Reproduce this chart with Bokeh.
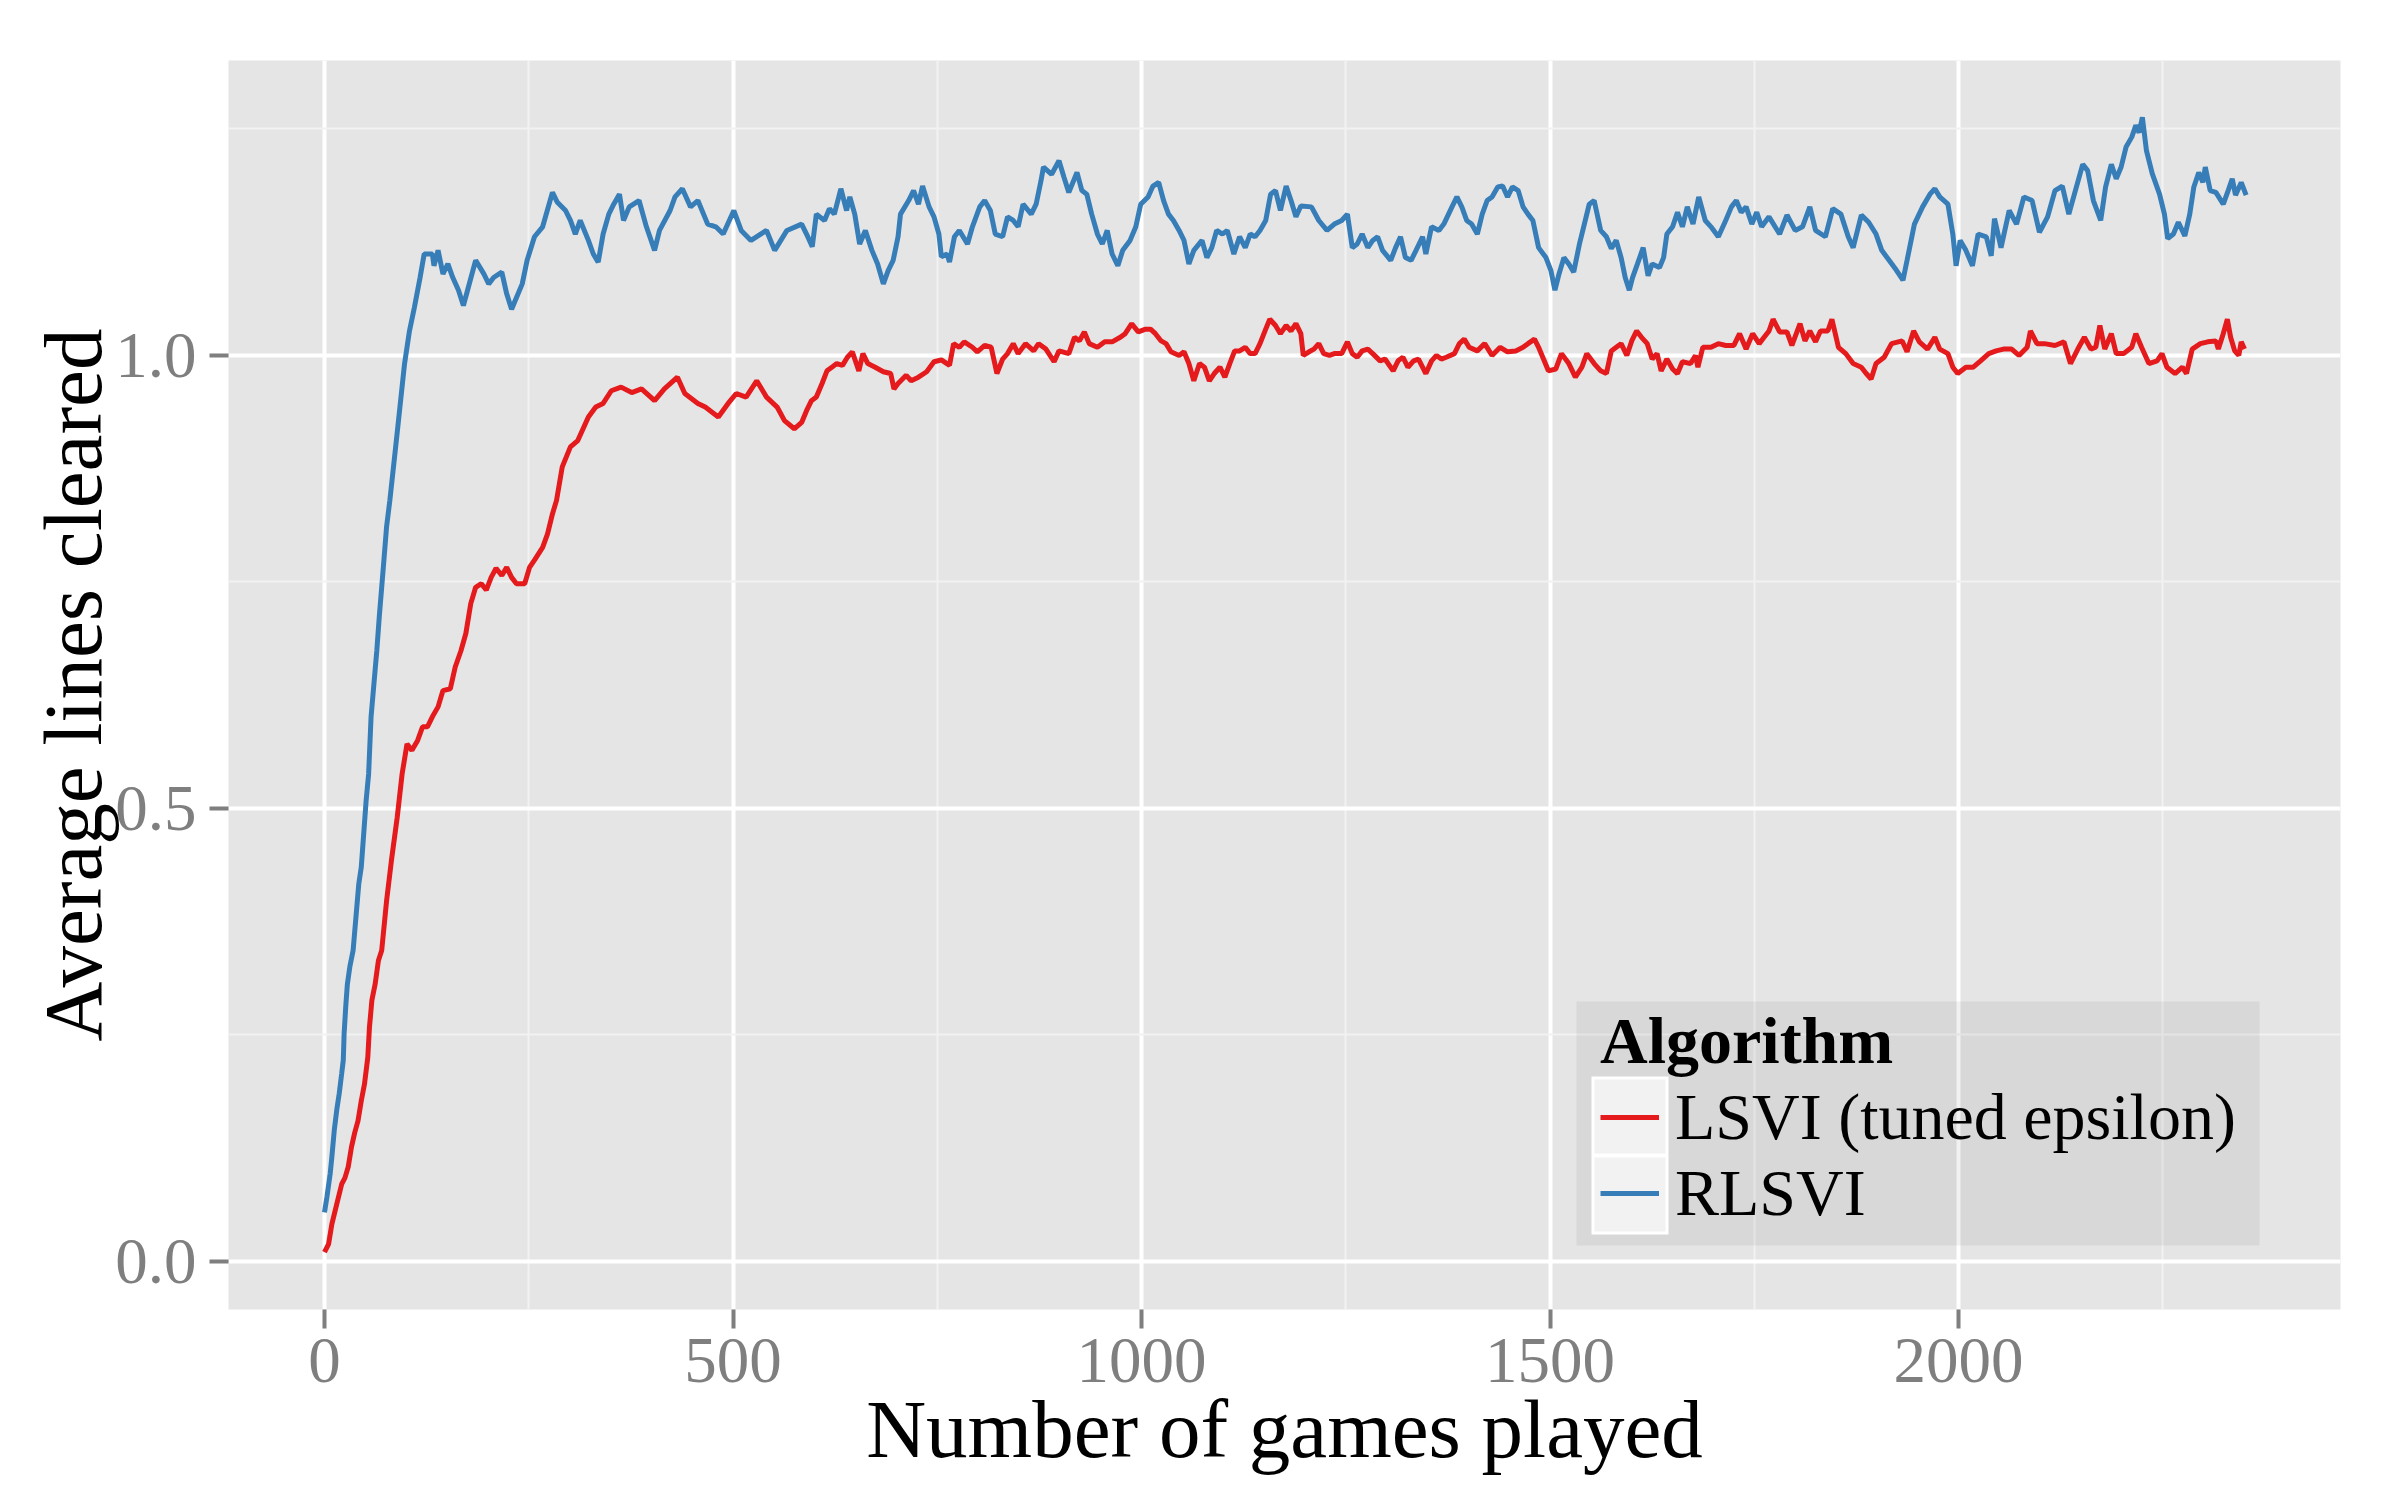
from bokeh.plotting import figure
from bokeh.models import (Range1d, FixedTicker, Legend, LegendItem, BoxAnnotation,
                          NumeralTickFormatter)
from bokeh.embed import file_html
from bokeh.resources import INLINE

# ---------------- data ----------------
series_names = ["LSVI (tuned epsilon)", "RLSVI"]
series_colors = ["#E41A1C", "#377EB8"]

lsvi_games = [
    0, 5, 9, 15, 21, 25, 29, 33, 37, 41,
    45, 49, 53, 55, 58, 62, 66, 70, 76, 82,
    89, 95, 101, 107, 114, 120, 126, 132, 139, 145,
    154, 160, 167, 173, 179, 185, 192, 198, 204, 210,
    217, 223, 229, 235, 245, 251, 257, 267, 273, 279,
    284, 291, 301, 310, 323, 332, 341, 351, 363, 376,
    388, 404, 416, 432, 441, 457, 466, 482, 494, 504,
    516, 529, 541, 554, 563, 575, 584, 590, 596, 602,
    609, 615, 621, 627, 634, 640, 646, 654, 659, 665,
    674, 684, 693, 697, 702, 712, 718, 727, 737, 746,
    755, 765, 770, 777, 783, 793, 799, 808, 816, 823,
    830, 836, 843, 849, 858, 868, 874, 883, 893, 899,
    911, 918, 924, 930, 936, 946, 955, 964, 974, 980,
    988, 996, 1005, 1011, 1017, 1024, 1030, 1036, 1046, 1052,
    1058, 1064, 1071, 1077, 1083, 1089, 1096, 1102, 1108, 1114,
    1120, 1127, 1133, 1139, 1145, 1152, 1157, 1164, 1170, 1177,
    1183, 1189, 1195, 1198, 1205, 1211, 1217, 1223, 1230, 1236,
    1245, 1252, 1258, 1264, 1270, 1277, 1283, 1292, 1298, 1308,
    1314, 1320, 1326, 1333, 1339, 1348, 1355, 1361, 1367, 1373,
    1383, 1389, 1395, 1401, 1411, 1420, 1429, 1439, 1448, 1458,
    1467, 1473, 1481, 1486, 1492, 1498, 1507, 1514, 1523, 1531,
    1539, 1545, 1554, 1562, 1569, 1575, 1581, 1587, 1594, 1600,
    1606, 1612, 1619, 1625, 1631, 1636, 1643, 1650, 1656, 1662,
    1672, 1678, 1681, 1687, 1697, 1706, 1715, 1725, 1732, 1740,
    1748, 1756, 1762, 1768, 1773, 1781, 1790, 1796, 1806, 1812,
    1818, 1825, 1831, 1840, 1845, 1853, 1862, 1871, 1881, 1887,
    1893, 1899, 1909, 1918, 1931, 1937, 1945, 1952, 1962, 1971,
    1977, 1987, 1993, 1999, 2009, 2018, 2027, 2037, 2046, 2055,
    2065, 2074, 2084, 2088, 2096, 2105, 2118, 2129, 2137, 2146,
    2154, 2162, 2168, 2173, 2179, 2187, 2193, 2202, 2212, 2217,
    2224, 2233, 2243, 2249, 2255, 2265, 2274, 2279, 2286, 2296,
    2305, 2315, 2318, 2324, 2329, 2333, 2338, 2343, 2346, 2350,
]
lsvi_lines = [
    0.010, 0.019, 0.041, 0.063, 0.085, 0.092, 0.104, 0.126, 0.142, 0.155,
    0.177, 0.196, 0.225, 0.258, 0.288, 0.306, 0.332, 0.343, 0.398, 0.443,
    0.490, 0.538, 0.571, 0.564, 0.575, 0.590, 0.590, 0.601, 0.612, 0.630,
    0.632, 0.656, 0.674, 0.693, 0.726, 0.744, 0.748, 0.741, 0.755, 0.765,
    0.757, 0.766, 0.755, 0.748, 0.748, 0.766, 0.774, 0.788, 0.803, 0.825,
    0.840, 0.877, 0.899, 0.906, 0.932, 0.943, 0.947, 0.961, 0.965, 0.959,
    0.963, 0.950, 0.963, 0.976, 0.958, 0.947, 0.943, 0.932, 0.947, 0.958,
    0.954, 0.972, 0.954, 0.943, 0.928, 0.919, 0.926, 0.939, 0.950, 0.954,
    0.969, 0.983, 0.987, 0.991, 0.989, 0.998, 1.004, 0.983, 1.002, 0.991,
    0.987, 0.982, 0.980, 0.963, 0.969, 0.978, 0.972, 0.976, 0.982, 0.993,
    0.995, 0.989, 1.013, 1.009, 1.015, 1.009, 1.004, 1.011, 1.009, 0.980,
    0.996, 1.002, 1.013, 1.002, 1.013, 1.005, 1.013, 1.007, 0.993, 1.005,
    1.002, 1.020, 1.016, 1.026, 1.013, 1.009, 1.015, 1.015, 1.020, 1.024,
    1.035, 1.026, 1.029, 1.029, 1.024, 1.016, 1.013, 1.004, 1.000, 1.004,
    0.991, 0.972, 0.991, 0.987, 0.972, 0.980, 0.987, 0.976, 0.991, 1.005,
    1.005, 1.009, 1.002, 1.002, 1.013, 1.029, 1.040, 1.033, 1.024, 1.033,
    1.027, 1.035, 1.024, 1.000, 1.004, 1.007, 1.013, 1.002, 1.000, 1.002,
    1.002, 1.015, 1.002, 0.998, 1.005, 1.007, 1.002, 0.994, 0.996, 0.983,
    0.994, 0.998, 0.987, 0.994, 0.996, 0.980, 0.994, 1.000, 0.996, 0.998,
    1.002, 1.013, 1.018, 1.009, 1.005, 1.013, 1.000, 1.009, 1.004, 1.005,
    1.009, 1.013, 1.018, 1.009, 0.996, 0.983, 0.985, 1.002, 0.991, 0.976,
    0.987, 1.002, 0.991, 0.983, 0.980, 1.005, 1.009, 1.013, 1.000, 1.016,
    1.027, 1.020, 1.013, 0.996, 1.002, 0.983, 0.996, 0.985, 0.980, 0.993,
    0.991, 1.000, 0.987, 1.009, 1.009, 1.013, 1.011, 1.011, 1.024, 1.007,
    1.024, 1.013, 1.020, 1.027, 1.040, 1.026, 1.026, 1.011, 1.035, 1.016,
    1.027, 1.015, 1.027, 1.027, 1.040, 1.009, 1.002, 0.991, 0.987, 0.980,
    0.974, 0.991, 0.998, 1.013, 1.016, 1.004, 1.027, 1.015, 1.007, 1.020,
    1.007, 1.002, 0.987, 0.980, 0.987, 0.987, 0.994, 1.002, 1.005, 1.007,
    1.007, 1.000, 1.009, 1.027, 1.013, 1.013, 1.011, 1.015, 0.991, 1.007,
    1.020, 1.007, 1.009, 1.033, 1.007, 1.024, 1.002, 1.002, 1.009, 1.024,
    1.009, 0.991, 0.994, 1.002, 0.987, 0.980, 0.987, 0.980, 1.007, 1.013,
    1.015, 1.016, 1.007, 1.024, 1.040, 1.020, 1.005, 1.000, 1.015, 1.007,
]

rlsvi_games = [
    0, 3, 7, 9, 12, 15, 18, 21, 23, 24,
    26, 28, 31, 35, 42, 45, 51, 54, 57, 64,
    67, 72, 76, 80, 89, 98, 104, 110, 117, 122,
    132, 134, 139, 145, 151, 157, 164, 170, 176, 185,
    195, 201, 207, 217, 223, 229, 235, 242, 248, 257,
    267, 279, 285, 295, 301, 307, 313, 323, 329, 335,
    341, 348, 354, 361, 366, 373, 385, 394, 404, 410,
    423, 429, 438, 448, 457, 469, 479, 488, 501, 510,
    522, 541, 551, 566, 584, 590, 597, 602, 612, 618,
    624, 632, 639, 643, 649, 655, 662, 670, 677, 684,
    690, 696, 702, 705, 715, 721, 727, 732, 740, 746,
    752, 755, 762, 765, 771, 777, 787, 793, 802, 808,
    815, 821, 830, 836, 843, 849, 855, 865, 871, 877,
    880, 890, 899, 905, 911, 921, 927, 933, 939, 946,
    952, 958, 964, 971, 977, 986, 993, 999, 1008, 1014,
    1021, 1027, 1033, 1039, 1046, 1052, 1058, 1064, 1074, 1080,
    1086, 1092, 1099, 1105, 1113, 1120, 1127, 1133, 1139, 1145,
    1152, 1158, 1164, 1170, 1177, 1183, 1189, 1195, 1208, 1217,
    1227, 1236, 1245, 1252, 1258, 1264, 1270, 1277, 1283, 1289,
    1295, 1305, 1311, 1317, 1323, 1330, 1336, 1344, 1348, 1355,
    1364, 1370, 1380, 1386, 1392, 1398, 1404, 1411, 1417, 1423,
    1429, 1436, 1442, 1448, 1454, 1461, 1467, 1473, 1479, 1486,
    1495, 1501, 1506, 1511, 1517, 1523, 1529, 1536, 1542, 1548,
    1554, 1562, 1569, 1575, 1581, 1587, 1592, 1597, 1601, 1607,
    1614, 1620, 1625, 1634, 1639, 1643, 1650, 1656, 1662, 1668,
    1675, 1682, 1690, 1697, 1706, 1715, 1722, 1728, 1734, 1740,
    1747, 1753, 1759, 1768, 1781, 1790, 1800, 1809, 1818, 1825,
    1837, 1846, 1856, 1865, 1871, 1881, 1890, 1899, 1906, 1915,
    1924, 1932, 1937, 1946, 1956, 1965, 1971, 1977, 1987, 1993,
    1997, 2002, 2009, 2017, 2024, 2034, 2040, 2044, 2052, 2062,
    2071, 2080, 2090, 2099, 2109, 2118, 2127, 2135, 2143, 2152,
    2158, 2165, 2174, 2180, 2187, 2193, 2199, 2205, 2212, 2217,
    2221, 2225, 2230, 2237, 2246, 2252, 2256, 2263, 2269, 2277,
    2283, 2288, 2294, 2299, 2302, 2308, 2315, 2324, 2330, 2335,
    2339, 2346, 2352,
]
rlsvi_lines = [
    0.054, 0.071, 0.097, 0.115, 0.145, 0.167, 0.185, 0.207, 0.222, 0.251,
    0.281, 0.306, 0.325, 0.343, 0.417, 0.435, 0.509, 0.538, 0.601, 0.674,
    0.711, 0.766, 0.811, 0.840, 0.915, 0.991, 1.027, 1.053, 1.086, 1.112,
    1.112, 1.099, 1.116, 1.090, 1.101, 1.086, 1.072, 1.055, 1.075, 1.105,
    1.090, 1.079, 1.086, 1.092, 1.068, 1.051, 1.064, 1.079, 1.105, 1.131,
    1.142, 1.180, 1.169, 1.160, 1.149, 1.134, 1.149, 1.127, 1.112, 1.103,
    1.134, 1.156, 1.167, 1.178, 1.149, 1.164, 1.171, 1.142, 1.116, 1.138,
    1.160, 1.175, 1.184, 1.164, 1.171, 1.145, 1.142, 1.134, 1.160, 1.138,
    1.127, 1.138, 1.116, 1.138, 1.145, 1.134, 1.120, 1.156, 1.149, 1.162,
    1.156, 1.184, 1.160, 1.175, 1.156, 1.123, 1.138, 1.116, 1.101, 1.079,
    1.094, 1.105, 1.131, 1.156, 1.171, 1.182, 1.167, 1.187, 1.164, 1.153,
    1.134, 1.109, 1.112, 1.103, 1.131, 1.138, 1.123, 1.142, 1.164, 1.171,
    1.160, 1.134, 1.131, 1.153, 1.149, 1.142, 1.167, 1.156, 1.167, 1.193,
    1.208, 1.200, 1.215, 1.197, 1.180, 1.202, 1.182, 1.178, 1.156, 1.134,
    1.123, 1.138, 1.112, 1.099, 1.116, 1.127, 1.142, 1.167, 1.175, 1.187,
    1.191, 1.171, 1.156, 1.149, 1.138, 1.127, 1.101, 1.116, 1.127, 1.108,
    1.119, 1.138, 1.134, 1.138, 1.112, 1.131, 1.119, 1.134, 1.131, 1.138,
    1.149, 1.178, 1.182, 1.160, 1.187, 1.171, 1.153, 1.165, 1.164, 1.149,
    1.138, 1.145, 1.149, 1.156, 1.119, 1.123, 1.134, 1.119, 1.127, 1.131,
    1.116, 1.105, 1.119, 1.131, 1.108, 1.105, 1.116, 1.131, 1.112, 1.142,
    1.138, 1.145, 1.164, 1.175, 1.164, 1.149, 1.145, 1.134, 1.156, 1.171,
    1.175, 1.186, 1.187, 1.175, 1.186, 1.182, 1.164, 1.156, 1.149, 1.119,
    1.108, 1.094, 1.072, 1.090, 1.108, 1.101, 1.092, 1.123, 1.145, 1.167,
    1.171, 1.138, 1.131, 1.118, 1.127, 1.108, 1.086, 1.072, 1.086, 1.101,
    1.119, 1.088, 1.101, 1.097, 1.108, 1.134, 1.142, 1.158, 1.142, 1.164,
    1.145, 1.175, 1.149, 1.142, 1.131, 1.149, 1.164, 1.171, 1.158, 1.164,
    1.145, 1.158, 1.142, 1.153, 1.134, 1.155, 1.138, 1.142, 1.164, 1.138,
    1.131, 1.162, 1.156, 1.131, 1.119, 1.155, 1.147, 1.134, 1.116, 1.105,
    1.094, 1.083, 1.105, 1.145, 1.164, 1.178, 1.184, 1.175, 1.167, 1.134,
    1.099, 1.127, 1.116, 1.099, 1.134, 1.131, 1.110, 1.151, 1.119, 1.160,
    1.145, 1.175, 1.171, 1.136, 1.153, 1.182, 1.187, 1.156, 1.182, 1.211,
    1.204, 1.171, 1.149, 1.186, 1.211, 1.195, 1.208, 1.230, 1.241, 1.254,
    1.246, 1.263, 1.226, 1.201, 1.178, 1.156, 1.129, 1.134, 1.147, 1.132,
    1.156, 1.186, 1.202, 1.191, 1.208, 1.182, 1.180, 1.167, 1.182, 1.195,
    1.177, 1.191, 1.177,
]

x_ticks = [0, 500, 1000, 1500, 2000]
x_tick_labels = ["0", "500", "1000", "1500", "2000"]
x_minor = [250, 750, 1250, 1750, 2250]
y_ticks = [0, 0.5, 1]
y_tick_labels = ["0.0", "0.5", "1.0"]
y_minor = [0.25, 0.75, 1.25]

x_title = "Number of games played"
y_title = "Average lines cleared"
legend_title = "Algorithm"

# ---------------- figure ----------------
FONT = "Liberation Serif"
GREY = "#7F7F7F"

p = figure(frame_width=2112, frame_height=1249,
           min_border_left=228, min_border_right=44,
           min_border_top=60, min_border_bottom=175,
           x_range=Range1d(-117.5, 2467.5), y_range=Range1d(-0.0533, 1.3256),
           output_backend="svg", toolbar_location=None)
p.background_fill_color = "#E5E5E5"
p.border_fill_color = "white"
p.outline_line_color = None

xt = FixedTicker(ticks=x_ticks, minor_ticks=x_minor)
yt = FixedTicker(ticks=y_ticks, minor_ticks=y_minor)
p.xaxis.ticker = xt
p.yaxis.ticker = yt
p.xgrid.ticker = xt
p.ygrid.ticker = yt
p.yaxis.formatter = NumeralTickFormatter(format="0.0")
p.xaxis.major_label_overrides = dict(zip(x_ticks, x_tick_labels))
p.yaxis.major_label_overrides = dict(zip(y_ticks, y_tick_labels))

for g in (p.xgrid, p.ygrid):
    g.grid_line_color = "white"
    g.grid_line_width = 4
    g.minor_grid_line_color = "#F2F2F2"
    g.minor_grid_line_width = 2

for ax in (p.xaxis, p.yaxis):
    ax.axis_line_color = None
    ax.major_tick_line_color = GREY
    ax.major_tick_line_width = 4
    ax.major_tick_in = 0
    ax.major_tick_out = 19
    ax.minor_tick_in = 0
    ax.minor_tick_out = 0
    ax.major_label_text_font = FONT
    ax.major_label_text_font_size = "65px"
    ax.major_label_text_color = GREY
    ax.axis_label_text_font = FONT
    ax.axis_label_text_font_size = "83px"
    ax.axis_label_text_font_style = "normal"
    ax.axis_label_text_color = "black"

p.xaxis.axis_label = x_title
p.yaxis.axis_label = y_title
p.xaxis.major_label_standoff = 10
p.xaxis.axis_label_standoff = -2
p.yaxis.major_label_standoff = 13
p.yaxis.axis_label_standoff = -7

r_lsvi = p.line(lsvi_games, lsvi_lines, line_color=series_colors[0], line_width=5)
r_rlsvi = p.line(rlsvi_games, rlsvi_lines, line_color=series_colors[1], line_width=5)

# legend background and key boxes (canvas pixel units)
def box(left, right, top, bottom, color, alpha):
    return BoxAnnotation(left=left, right=right, top=top, bottom=bottom,
                         left_units="canvas", right_units="canvas",
                         top_units="canvas", bottom_units="canvas",
                         fill_color=color, fill_alpha=alpha, line_color=None)

p.add_layout(box(1576, 2259, 1001, 1245, "black", 0.055))
p.add_layout(box(1591, 1668, 1076, 1234, "white", 1.0))
p.add_layout(box(1594, 1665, 1079, 1153, "#F2F2F2", 1.0))
p.add_layout(box(1594, 1665, 1157, 1231, "#F2F2F2", 1.0))

legend = Legend(items=[LegendItem(label=series_names[0], renderers=[r_lsvi]),
                       LegendItem(label=series_names[1], renderers=[r_rlsvi])],
                location=(1372, 78), title=legend_title,
                background_fill_alpha=0, border_line_color=None,
                padding=0, spacing=0, margin=0,
                glyph_width=59, glyph_height=76, label_standoff=16,
                label_text_font=FONT, label_text_font_size="66px",
                label_text_color="black",
                title_text_font=FONT, title_text_font_size="66px",
                title_text_font_style="bold", title_text_color="black",
                title_standoff=-4)
p.add_layout(legend)

open("out.html", "w").write(file_html(p, INLINE))
